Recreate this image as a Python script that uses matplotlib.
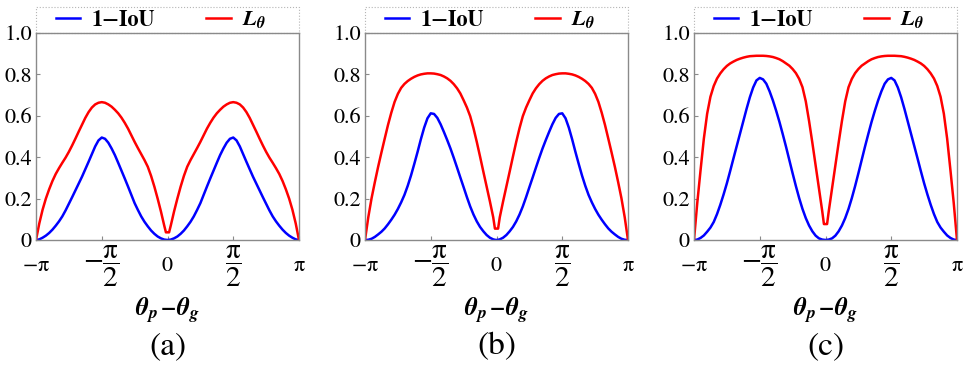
import matplotlib
matplotlib.use("Agg")
import matplotlib.pyplot as plt
from matplotlib.patches import Rectangle
import numpy as np

plt.rcParams['font.family'] = ['STIXGeneral', 'DejaVu Serif']
plt.rcParams['mathtext.fontset'] = 'custom'
plt.rcParams['mathtext.rm'] = 'STIXGeneral'
plt.rcParams['mathtext.it'] = 'STIXGeneral:italic'
plt.rcParams['mathtext.bf'] = 'STIXGeneral:italic:bold'

# x positions in units of pi
x_pi = [-1.0, -0.975, -0.95, -0.925, -0.9, -0.875, -0.85, -0.825, -0.8, -0.775,
        -0.75, -0.725, -0.7, -0.675, -0.65, -0.625, -0.6, -0.575, -0.55, -0.525,
        -0.5, -0.475, -0.45, -0.425, -0.4, -0.375, -0.35, -0.325, -0.3, -0.275,
        -0.25, -0.225, -0.2, -0.175, -0.15, -0.125, -0.1, -0.075, -0.05, -0.025,
        -0.012, 0.0, 0.012,
        0.025, 0.05, 0.075, 0.1, 0.125, 0.15, 0.175, 0.2, 0.225, 0.25,
        0.275, 0.3, 0.325, 0.35, 0.375, 0.4, 0.425, 0.45, 0.475, 0.5,
        0.525, 0.55, 0.575, 0.6, 0.625, 0.65, 0.675, 0.7, 0.725, 0.75,
        0.775, 0.8, 0.825, 0.85, 0.875, 0.9, 0.925, 0.95, 0.975, 1.0]

iou_a = [0.0, 0.003, 0.011, 0.021, 0.034, 0.05, 0.069, 0.09, 0.114, 0.143,
         0.175, 0.207, 0.24, 0.273, 0.306, 0.342, 0.378, 0.415, 0.452, 0.481,
         0.495, 0.489, 0.47, 0.442, 0.41, 0.373, 0.335, 0.297, 0.258, 0.218,
         0.178, 0.145, 0.114, 0.088, 0.066, 0.046, 0.03, 0.017, 0.008, 0.002,
         0.001, 0.0, 0.001,
         0.002, 0.008, 0.017, 0.03, 0.046, 0.066, 0.088, 0.114, 0.145, 0.178,
         0.218, 0.258, 0.297, 0.335, 0.373, 0.41, 0.442, 0.47, 0.489, 0.495,
         0.481, 0.452, 0.415, 0.378, 0.342, 0.306, 0.273, 0.24, 0.207, 0.175,
         0.143, 0.114, 0.09, 0.069, 0.05, 0.034, 0.021, 0.011, 0.003, 0.0]
ltheta_a = [0.0, 0.08, 0.146, 0.2, 0.245, 0.285, 0.319, 0.347, 0.373, 0.398,
            0.426, 0.457, 0.49, 0.524, 0.557, 0.59, 0.618, 0.64, 0.655, 0.663,
            0.666, 0.663, 0.655, 0.644, 0.629, 0.612, 0.591, 0.566, 0.538, 0.506,
            0.474, 0.444, 0.415, 0.386, 0.354, 0.31, 0.258, 0.2, 0.138, 0.07,
            0.037, 0.037, 0.037,
            0.07, 0.138, 0.2, 0.258, 0.31, 0.354, 0.386, 0.415, 0.444, 0.474,
            0.506, 0.538, 0.566, 0.591, 0.612, 0.629, 0.644, 0.655, 0.663, 0.666,
            0.663, 0.655, 0.64, 0.618, 0.59, 0.557, 0.524, 0.49, 0.457, 0.426,
            0.398, 0.373, 0.347, 0.319, 0.285, 0.245, 0.2, 0.146, 0.08, 0.0]

iou_b = [0.0, 0.001, 0.006, 0.015, 0.027, 0.04, 0.056, 0.076, 0.098, 0.122,
         0.15, 0.182, 0.218, 0.262, 0.312, 0.368, 0.426, 0.487, 0.543, 0.588,
         0.612, 0.609, 0.59, 0.559, 0.522, 0.483, 0.442, 0.397, 0.35, 0.302,
         0.255, 0.207, 0.162, 0.123, 0.09, 0.063, 0.042, 0.024, 0.011, 0.003,
         0.001, 0.0, 0.001,
         0.003, 0.011, 0.024, 0.042, 0.063, 0.09, 0.123, 0.162, 0.207, 0.255,
         0.302, 0.35, 0.397, 0.442, 0.483, 0.522, 0.559, 0.59, 0.609, 0.612,
         0.588, 0.543, 0.487, 0.426, 0.368, 0.312, 0.262, 0.218, 0.182, 0.15,
         0.122, 0.098, 0.076, 0.056, 0.04, 0.027, 0.015, 0.006, 0.001, 0.0]
ltheta_b = [0.0, 0.11, 0.202, 0.28, 0.354, 0.423, 0.49, 0.556, 0.615, 0.667,
            0.706, 0.735, 0.754, 0.768, 0.779, 0.788, 0.795, 0.8, 0.803, 0.805,
            0.805, 0.804, 0.801, 0.797, 0.79, 0.781, 0.769, 0.753, 0.733, 0.708,
            0.675, 0.64, 0.598, 0.54, 0.474, 0.403, 0.33, 0.258, 0.186, 0.11,
            0.055, 0.055, 0.055,
            0.11, 0.186, 0.258, 0.33, 0.403, 0.474, 0.54, 0.598, 0.64, 0.675,
            0.708, 0.733, 0.753, 0.769, 0.781, 0.79, 0.797, 0.801, 0.804, 0.805,
            0.805, 0.803, 0.8, 0.795, 0.788, 0.779, 0.768, 0.754, 0.735, 0.706,
            0.667, 0.615, 0.556, 0.49, 0.423, 0.354, 0.28, 0.202, 0.11, 0.0]

iou_c = [0.0, 0.002, 0.01, 0.022, 0.04, 0.06, 0.087, 0.125, 0.17, 0.22,
         0.274, 0.333, 0.394, 0.454, 0.514, 0.574, 0.634, 0.69, 0.737, 0.771,
         0.783, 0.776, 0.755, 0.718, 0.674, 0.624, 0.57, 0.511, 0.45, 0.386,
         0.322, 0.26, 0.202, 0.15, 0.106, 0.07, 0.042, 0.021, 0.008, 0.002,
         0.001, 0.0, 0.001,
         0.002, 0.008, 0.021, 0.042, 0.07, 0.106, 0.15, 0.202, 0.26, 0.322,
         0.386, 0.45, 0.511, 0.57, 0.624, 0.674, 0.718, 0.755, 0.776, 0.783,
         0.771, 0.737, 0.69, 0.634, 0.574, 0.514, 0.454, 0.394, 0.333, 0.274,
         0.22, 0.17, 0.125, 0.087, 0.06, 0.04, 0.022, 0.01, 0.002, 0.0]
ltheta_c = [0.0, 0.18, 0.338, 0.49, 0.61, 0.692, 0.744, 0.78, 0.805, 0.825,
            0.841, 0.853, 0.862, 0.87, 0.876, 0.881, 0.885, 0.888, 0.889, 0.89,
            0.89, 0.89, 0.889, 0.887, 0.884, 0.879, 0.873, 0.864, 0.853, 0.842,
            0.826, 0.806, 0.778, 0.738, 0.67, 0.575, 0.47, 0.36, 0.25, 0.14,
            0.077, 0.077, 0.077,
            0.14, 0.25, 0.36, 0.47, 0.575, 0.67, 0.738, 0.778, 0.806, 0.826,
            0.842, 0.853, 0.864, 0.873, 0.879, 0.884, 0.887, 0.889, 0.89, 0.89,
            0.89, 0.889, 0.888, 0.885, 0.881, 0.876, 0.87, 0.862, 0.853, 0.841,
            0.825, 0.805, 0.78, 0.744, 0.692, 0.61, 0.49, 0.338, 0.18, 0.0]

panel_labels = ["(a)", "(b)", "(c)"]
panels = [(iou_a, ltheta_a), (iou_b, ltheta_b), (iou_c, ltheta_c)]

xtick_pos_pi = [-1.0, -0.5, 0.0, 0.5, 1.0]
xtick_labels = [r'$-\mathrm{π}$', r'$-\dfrac{\mathrm{π}}{\mathrm{2}}$', r'$\mathrm{0}$',
                r'$\dfrac{\mathrm{π}}{\mathrm{2}}$', r'$\mathrm{π}$']
ytick_pos = [0.0, 0.2, 0.4, 0.6, 0.8, 1.0]
ytick_labels = ['0', '0.2', '0.4', '0.6', '0.8', '1.0']
legend_labels = ['1\u2212IoU', r'$\mathbf{L_θ}$']
xlabel_text = r'$\mathbf{θ_p\,{-}θ_g}$'

W, H = 969, 375
fig = plt.figure(figsize=(W / 100, H / 100), dpi=100)
lefts = [36, 365, 694]
ax_w = 263
ax_top, ax_bot = 33, 240
spine_col = '#8a8a8a'

for lab, (iou, lt), lpx in zip(panel_labels, panels, lefts):
    ax = fig.add_axes([lpx / W, (H - ax_bot) / H, ax_w / W, (ax_bot - ax_top) / H])
    x = np.array(x_pi) * np.pi
    ax.plot(x, iou, color='#0000ff', lw=1.8, label=legend_labels[0], solid_joinstyle='round')
    ax.plot(x, lt, color='#ff0000', lw=1.8, label=legend_labels[1], solid_joinstyle='round')
    ax.set_xlim(-np.pi, np.pi)
    ax.set_ylim(0, 1.0)
    ax.set_xticks(np.array(xtick_pos_pi) * np.pi)
    ax.set_xticklabels(xtick_labels)
    ax.set_yticks(ytick_pos)
    ax.set_yticklabels(ytick_labels)
    ax.tick_params(axis='both', direction='in', length=3, width=0.8, color=spine_col,
                   labelsize=16, top=False, right=False)
    ax.tick_params(axis='x', pad=19)
    ax.tick_params(axis='y', pad=3)
    for i, t in enumerate(ax.get_xticklabels()):
        t.set_verticalalignment('center')
        if i in (1, 3):
            t.set_fontsize(21)
    for s in ax.spines.values():
        s.set_color(spine_col)
        s.set_linewidth(1.0)
    ax.set_xlabel(xlabel_text, fontsize=18)
    ax.xaxis.set_label_coords(0.5, -0.27)
    ax.xaxis.label.set_verticalalignment('top')
    # legend box above the plot area
    ax.add_patch(Rectangle((0, 1.0), 1, 26 / 207, transform=ax.transAxes, fill=False,
                           edgecolor='#b5b5b5', linestyle=':', linewidth=0.8, clip_on=False))
    ax.legend(loc='center', bbox_to_anchor=(0.475, 1.0 + 13 / 207), ncol=2,
              frameon=False, borderaxespad=0, borderpad=0,
              handlelength=1.1, handletextpad=0.5, columnspacing=2.3,
              prop={'family': 'STIXGeneral', 'weight': 'bold', 'size': 16})
    fig.text((lpx + ax_w / 2) / W, 1 - 347 / H, lab, ha='center', va='center', fontsize=24)

fig.savefig('out.png', dpi=100)
